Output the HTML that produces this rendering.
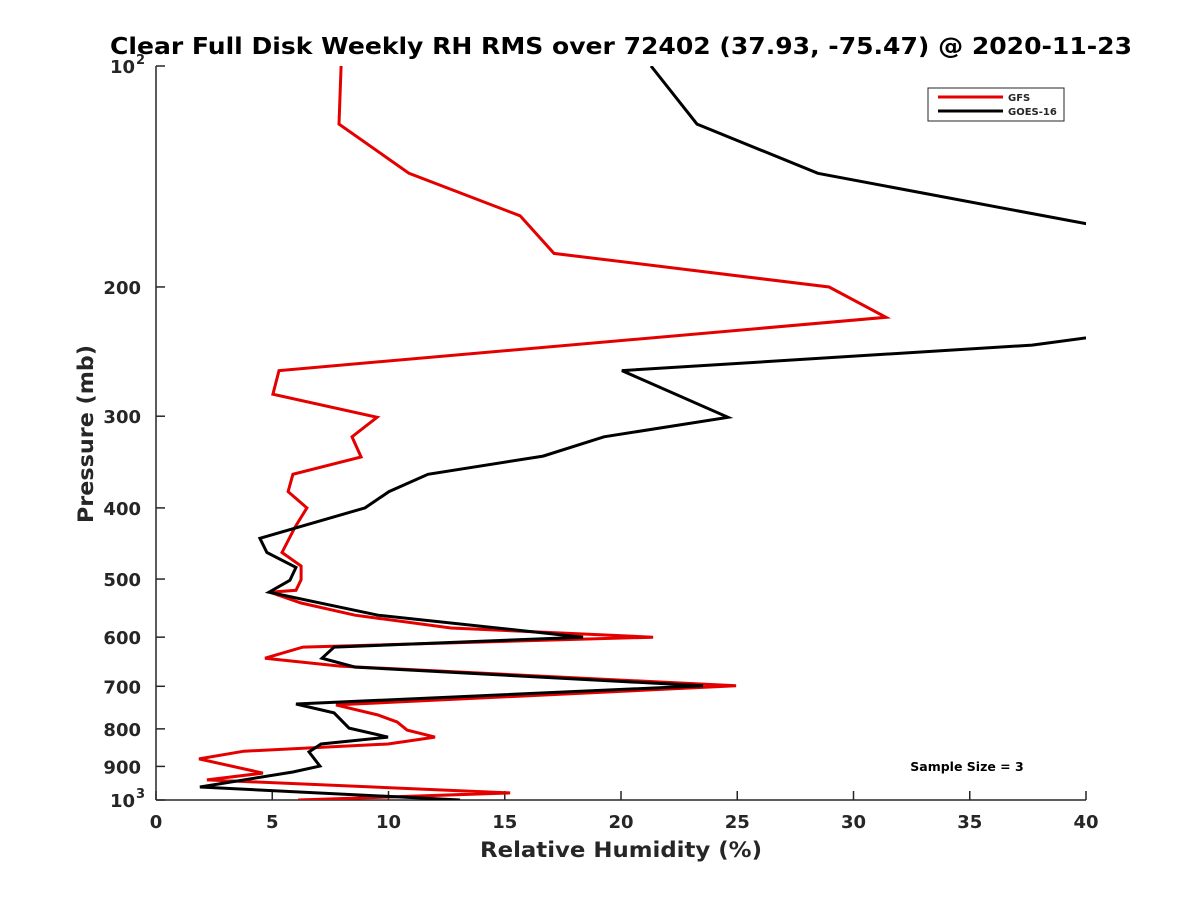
<!DOCTYPE html>
<html><head><meta charset="utf-8"><style>
body{margin:0;background:#fff}
svg text{font-family:"DejaVu Sans","Liberation Sans",sans-serif;font-weight:bold;fill:#262626}
</style></head><body>
<svg id="chart" width="1200" height="900" viewBox="0 0 1200 900">
<defs><clipPath id="clip"><rect x="156" y="66" width="930" height="734"/></clipPath></defs>
<text x="110" y="54" font-size="23" textLength="1022" lengthAdjust="spacingAndGlyphs" style="fill:#000">Clear Full Disk Weekly RH RMS over 72402 (37.93, -75.47) @ 2020-11-23</text>
<g id="axes"></g>
<g id="series" clip-path="url(#clip)"></g>
<g>
<rect x="928" y="88" width="136" height="33" fill="#fff" stroke="#262626" stroke-width="1"/>
<line x1="938" y1="97" x2="1003" y2="97" stroke="#e50000" stroke-width="3"/>
<text x="1008" y="101" font-size="10">GFS</text>
<line x1="938" y1="111" x2="1003" y2="111" stroke="#000" stroke-width="3"/>
<text x="1008" y="115" font-size="10">GOES-16</text>
</g>
<text x="967" y="771" text-anchor="middle" font-size="12.5" style="fill:#000">Sample Size = 3</text>
<text x="480" y="857" font-size="21" textLength="282" lengthAdjust="spacingAndGlyphs">Relative Humidity (%)</text>
<text transform="translate(93,523) rotate(-90)" font-size="21" textLength="178" lengthAdjust="spacingAndGlyphs">Pressure (mb)</text>
</svg>
<script>
const xTicks=[0,5,10,15,20,25,30,35,40];
const yTicks=[100,200,300,400,500,600,700,800,900,1000];
const gfsRH=[7.96,7.87,10.88,15.66,17.12,28.95,31.40,5.29,5.03,9.51,8.43,8.82,5.89,5.68,6.49,5.98,5.42,6.24,6.24,6.02,4.90,6.24,8.56,12.69,21.38,6.32,4.69,7.91,24.95,7.74,9.55,10.37,10.80,12.00,9.98,3.78,1.85,4.60,2.19,15.23,6.11];
const gfsP=[100,120,140,160,180,200,220,260,280,301,320,341,360,380,400,425,460,480,501,518,521,539,560,583,600,619,641,657,699,742,766,783,803,821,839,858,879,919,939,978,1000];
const goesRH=[21.29,23.27,28.47,40.0,55.0,46.6,37.68,20.04,24.60,19.27,16.65,11.70,10.02,8.99,4.47,4.77,6.02,5.76,4.86,9.55,18.37,7.66,7.14,8.56,23.53,6.02,7.66,8.30,9.98,7.10,6.58,7.05,5.89,1.89,13.08];
const goesP=[100,120,140,164,200,220,240,260,301,320,340,360,380,400,440,460,482,502,521,560,600,619,641,659,699,740,761,798,821,839,860,899,916,960,1000];
const X0=156,X1=1086,Y0=66,Y1=800;
const sx=v=>X0+(v-0)/40*(X1-X0);
const sy=p=>Y0+(Math.log10(p)-2)*(Y1-Y0);
const NS="http://www.w3.org/2000/svg";
const axes=document.getElementById('axes'), series=document.getElementById('series');
function mk(tag,attrs,parent){const e=document.createElementNS(NS,tag);for(const k in attrs)e.setAttribute(k,attrs[k]);parent.appendChild(e);return e;}
const ya=mk('line',{x1:X0,y1:Y0,x2:X0,y2:Y1,stroke:'#262626','stroke-width':1.5},axes);


const xa=mk('line',{x1:X0,y1:Y1,x2:X1,y2:Y1,stroke:'#262626','stroke-width':1.5},axes);


xTicks.forEach(t=>{
 const l=mk('line',{x1:sx(t),y1:Y1,x2:sx(t),y2:Y1-9,stroke:'#262626','stroke-width':1.5},axes);
 
 
 const tx=mk('text',{x:sx(t),y:Y1+28,'text-anchor':'middle','font-size':18},axes);
 tx.textContent=t;
 
 
});
yTicks.forEach(t=>{
 const y=sy(t);
 const l=mk('line',{x1:X0,y1:y,x2:X0+9,y2:y,stroke:'#262626','stroke-width':1.5},axes);
 
 
 const tx=mk('text',{x:X0-15,y:y+7,'text-anchor':'end','font-size':18},axes);
 
 
 if(t===100||t===1000){
  tx.setAttribute('x',X0-21);
  tx.textContent='10';
  const s=mk('text',{x:X0-11,y:y-2,'text-anchor':'end','font-size':13},axes);
  s.textContent=t===100?'2':'3';
  
  
 } else tx.textContent=t;
});
function line(vals,ps,color,name){
 const d=vals.map((v,i)=>(i?'L':'M')+sx(v).toFixed(1)+','+sy(ps[i]).toFixed(1)).join('');
 const p=mk('path',{d:d,fill:'none',stroke:color,'stroke-width':3,'stroke-linejoin':'miter'},series);
 
 
}
line(gfsRH,gfsP,'#e50000','gfs-line');
line(goesRH,goesP,'#000000','goes16-line');
</script>
</body></html>
